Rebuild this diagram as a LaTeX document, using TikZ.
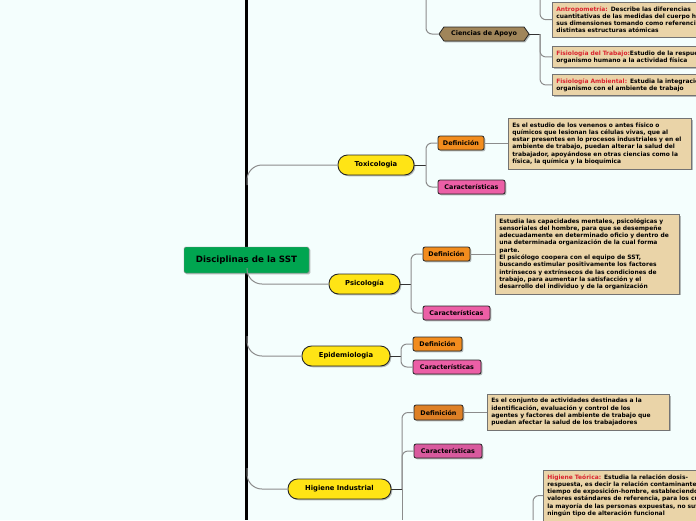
\documentclass[tikz,border=0pt]{standalone}
\usepackage{fontspec}
\setmainfont{DejaVu Sans}
\usetikzlibrary{shapes.symbols,shadows}
\definecolor{bgc}{HTML}{F4FEFD}
\definecolor{mgreen}{HTML}{00A550}
\definecolor{myellow}{HTML}{FFE415}
\definecolor{morange}{HTML}{F28C1E}
\definecolor{morange2}{HTML}{DE8026}
\definecolor{mpink}{HTML}{EC5FA6}
\definecolor{mpink2}{HTML}{D95A9E}
\definecolor{mtan}{HTML}{EAD4A8}
\definecolor{mhex}{HTML}{A0855A}
\definecolor{hred}{HTML}{D9232E}
\definecolor{cgray}{HTML}{8C8C8C}
\newcommand{\hd}[1]{\textcolor{hred}{#1}}
\begin{document}
\begin{tikzpicture}[x=1pt,y=-1pt,
  shad/.style={drop shadow={shadow xshift=1.3pt,shadow yshift=-1.3pt,opacity=0.45,fill=black!60}},
  central/.style={draw=black!45,fill=mgreen,rounded corners=1.5pt,inner sep=0pt,minimum width=125pt,minimum height=26pt,font=\fontsize{8.7}{10}\selectfont\bfseries,shad},
  pill/.style={draw=black!85,line width=0.9pt,fill=myellow,rounded corners=9.5pt,inner sep=0pt,minimum height=20pt,font=\fontsize{6.8}{8}\selectfont\bfseries,shad},
  lab/.style={draw=black!85,line width=0.8pt,rounded corners=2pt,inner sep=0pt,minimum height=14pt,font=\fontsize{6.4}{8}\selectfont\bfseries,shad},
  defbox/.style={lab,fill=morange},
  carbox/.style={lab,fill=mpink},
  hexbox/.style={draw=black!85,line width=0.8pt,fill=mhex,shape=signal,signal to=west and east,signal pointer angle=110,inner sep=0pt,minimum width=90pt,minimum height=14pt,font=\fontsize{6.4}{8}\selectfont\bfseries,shad},
  tbox/.style={draw=black!55,line width=0.6pt,fill=mtan,inner sep=4pt,anchor=north west,align=left,font=\fontsize{5.95}{7.3}\selectfont\bfseries,shad},
  conn/.style={draw=cgray,line width=1pt,rounded corners=6pt},
  bconn/.style={draw=cgray,line width=1pt,rounded corners=15pt},
  dconn/.style={draw=black!80,line width=1pt},
  spine/.style={draw=black,line width=3pt}]
\useasboundingbox (0,0) rectangle (696,520);
\clip (0,0) rectangle (696,520);
\fill[bgc] (0,0) rectangle (696,520);

% coordinates at the picture edges
\coordinate (spineTop) at (246,0);
\coordinate (spineBot) at (246,520);
\coordinate (cdaTop) at (426,0);
\coordinate (cjTop) at (540,0);
\coordinate (cjx) at (540,34);
\coordinate (tjx) at (426,165);
\coordinate (pjx) at (411,284);
\coordinate (ejx) at (401,356);
\coordinate (hjx) at (402,489);
\coordinate (hjBot) at (402,520);
\coordinate (htBot) at (533,520);
\coordinate (tbj) at (247,185);
\coordinate (pbj) at (247,268);
\coordinate (ebj) at (247,336);
\coordinate (hbj) at (247,468);

% spine
\draw[spine] (spineTop) -- (spineBot);

% nodes
\node[central] (c) at (246.5,260) {Disciplinas de la SST};
\node[pill,minimum width=76pt] (tox) at (376,165) {Toxicologia};
\node[pill,minimum width=71pt] (psi) at (364.5,284) {Psicología};
\node[pill,minimum width=88pt] (epi) at (346,356) {Epidemiologia};
\node[pill,minimum width=103pt] (hig) at (339.5,489) {Higiene Industrial};
\node[hexbox] (cda) at (484,34) {Ciencias de Apoyo};

\node[defbox,minimum width=46pt] (toxdef) at (461,143) {Definición};
\node[carbox,minimum width=67pt] (toxcar) at (471.5,187) {Características};
\node[defbox,minimum width=47pt] (psidef) at (446.5,254) {Definición};
\node[carbox,minimum width=67pt] (psicar) at (456.5,313) {Características};
\node[defbox,minimum width=49pt] (epidef) at (437.5,344) {Definición};
\node[carbox,minimum width=68pt] (epicar) at (447,367) {Características};
\node[lab,fill=morange2,minimum width=49pt,minimum height=15pt] (higdef) at (438.5,412.5) {Definición};
\node[lab,fill=mpink2,minimum width=68pt] (higcar) at (448,451) {Características};

\node[tbox,text width=175pt] (toxtext) at (508,118) {Es el estudio de los venenos o antes físico o\\químicos que lesionan las células vivas, que al\\estar presentes en lo procesos industriales y en el\\ambiente de trabajo, puedan alterar la salud del\\trabajador, apoyándose en otras ciencias como la\\física, la química y la bioquímica};
\node[tbox,text width=176pt] (psitext) at (495,214) {Estudia las capacidades mentales, psicológicas y\\sensoriales del hombre, para que se desempeñe\\adecuadamente en determinado oficio y dentro de\\una determinada organización de la cual forma\\parte.\\El psicólogo coopera con el equipo de SST,\\buscando estimular positivamente los factores\\intrínsecos y extrínsecos de las condiciones de\\trabajo, para aumentar la satisfacción y el\\desarrollo del individuo y de la organización};
\node[tbox,text width=174pt] (higtext) at (487,394) {Es el conjunto de actividades destinadas a la\\identificación, evaluación y control de los\\agentes y factores del ambiente de trabajo que\\puedan afectar la salud de los trabajadores};
\node[tbox,text width=200pt] (antro) at (552,2) {\hd{Antropometría:} Describe las diferencias\\cuantitativas de las medidas del cuerpo humano, estudia\\sus dimensiones tomando como referencia las\\distintas estructuras atómicas};
\node[tbox,text width=200pt] (fistrab) at (552,46) {\hd{Fisiología del Trabajo:}Estudio de la respuesta del\\organismo humano a la actividad física};
\node[tbox,text width=200pt] (fisamb) at (552,74) {\hd{Fisiología Ambiental:} Estudia la integración del\\organismo con el ambiente de trabajo};
\node[tbox,text width=200pt] (ht) at (543,470) {\hd{Higiene Teórica:} Estudia la relación dosis-\\respuesta, es decir la relación contaminante-\\tiempo de exposición-hombre, estableciendo\\valores estándares de referencia, para los cuales\\la mayoría de las personas expuestas, no sufren\\ningún tipo de alteración funcional};

% connectors
\draw[bconn] (tox.west) -| (tbj);
\draw[bconn] (psi.west) -| (pbj);
\draw[bconn] (epi.west) -| (ebj);
\draw[bconn] (hig.west) -| (hbj);

\draw[dconn] (tox.east) -- (tjx);
\draw[conn] (toxdef.west) -| (tjx) |- (toxcar.west);
\draw[dconn] (psi.east) -- (pjx);
\draw[conn] (psidef.west) -| (pjx) |- (psicar.west);
\draw[dconn] (epi.east) -- (ejx);
\draw[conn] (epidef.west) -| (ejx) |- (epicar.west);
\draw[dconn] (hig.east) -- (hjx);
\draw[conn] (higdef.west) -| (hjx);
\draw[conn] (higcar.west) -| (hjx);
\draw[conn] (hjx) -- (hjBot);

\draw[conn] (toxdef.east) -- (toxtext.west |- toxdef.east);
\draw[conn] (psidef.east) -- (psitext.west |- psidef.east);
\draw[conn] (higdef.east) -- (higtext.west |- higdef.east);

\draw[conn] (cda.west) -| (cdaTop);
\draw[dconn] (cda.east) -- (cjx);
\draw[conn] (antro.west) -| (cjTop);
\draw[conn] (fistrab.west) -| (cjx);
\draw[conn] (fisamb.west) -| (cjx);
\draw[conn] (ht.west) -| (htBot);
\end{tikzpicture}
\end{document}
